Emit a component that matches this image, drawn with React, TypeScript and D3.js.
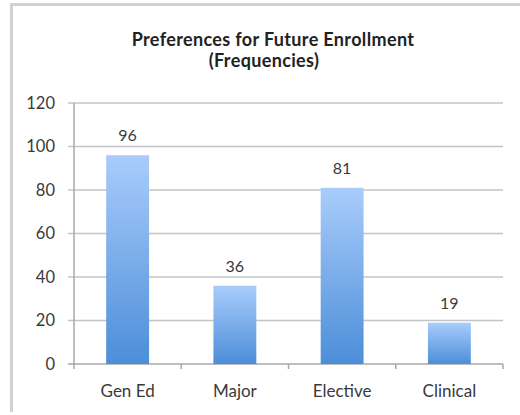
import React from 'react';
import * as d3 from 'd3';

const categories = ['Gen Ed', 'Major', 'Elective', 'Clinical'];
const values = [96, 36, 81, 19];
const yTicks = [0, 20, 40, 60, 80, 100, 120];

const W = 520;
const H = 415;
const left = 74;
const right = 503;
const top = 103;
const bottom = 364;
const font = 'Lato, "Open Sans", sans-serif';
const textColor = '#3a3a3a';

export default function App() {
  const x = d3.scaleBand<string>().domain(categories).range([left, right]).paddingInner(0.6).paddingOuter(0.3);
  const y = d3.scaleLinear().domain([0, 120]).range([bottom, top]);
  const step = x.step();
  const bounds = d3.range(categories.length + 1).map(i => left + i * step);

  return (
    <svg width={W} height={H} style={{ position: 'absolute', left: 0, top: 0 }} fontFamily={font}>
      <defs>
        <linearGradient id="barGrad" x1="0" y1="0" x2="0" y2="1">
          <stop offset="0%" stopColor="#a9ccfb" />
          <stop offset="100%" stopColor="#4c8ed9" />
        </linearGradient>
      </defs>
      <rect x={0} y={0} width={W} height={H} fill="#fff" />
      {/* frame */}
      <path d={`M${W + 5},4.5 H11.5 V412`} fill="none" stroke="#d2d2d2" strokeWidth={3} />
      {/* title */}
      <text x={273} y={46} textAnchor="middle" fontSize={18} fontWeight="bold" fill="#222" letterSpacing={0.35}>
        Preferences for Future Enrollment
      </text>
      <text x={264} y={67} textAnchor="middle" fontSize={18} fontWeight="bold" fill="#222" letterSpacing={0.35}>
        (Frequencies)
      </text>
      {/* gridlines + y ticks */}
      {yTicks.map(t => (
        <g key={t}>
          <line x1={left - 6} x2={right} y1={y(t)} y2={y(t)} stroke={t === 0 ? '#a8a8a8' : '#c4c4c4'} strokeWidth={1.5} />
          <text x={55} y={y(t)} dy="0.35em" textAnchor="end" fontSize={16.5} fill={textColor}>
            {t}
          </text>
        </g>
      ))}
      {/* y axis */}
      <line x1={left} x2={left} y1={top} y2={bottom} stroke="#a8a8a8" strokeWidth={1.5} />
      {/* category ticks */}
      {bounds.map((b, i) => (
        <line key={i} x1={b} x2={b} y1={bottom} y2={bottom + 5} stroke="#a8a8a8" strokeWidth={1.5} />
      ))}
      {/* bars */}
      {categories.map((c, i) => (
        <g key={c}>
          <rect x={x(c)} y={y(values[i])} width={x.bandwidth()} height={bottom - y(values[i])} fill="url(#barGrad)" />
          <text x={(x(c) ?? 0) + x.bandwidth() / 2} y={y(values[i]) - 14} textAnchor="middle" fontSize={16} fill={textColor}>
            {values[i]}
          </text>
          <text x={left + step * (i + 0.5)} y={397} textAnchor="middle" fontSize={17} fill={textColor}>
            {c}
          </text>
        </g>
      ))}
    </svg>
  );
}
